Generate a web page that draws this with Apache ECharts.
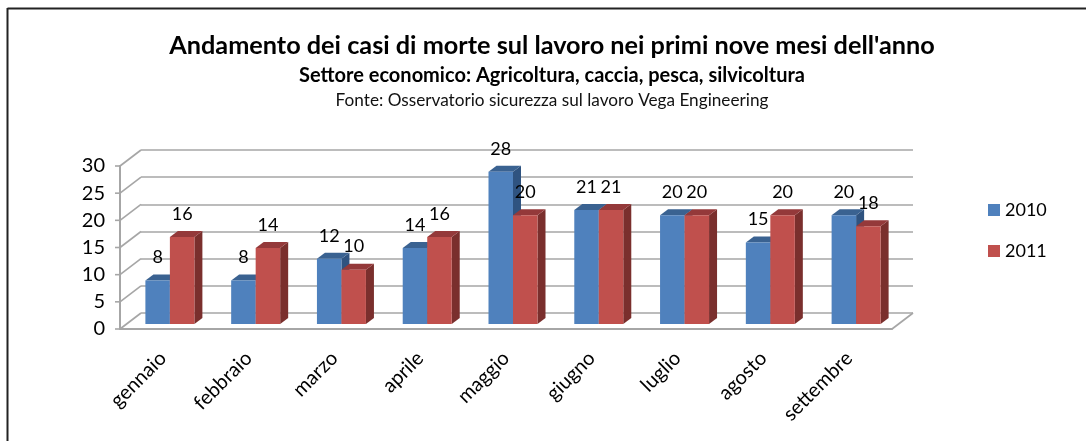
<!DOCTYPE html>
<html>
<head>
<meta charset="utf-8">
<title>Andamento dei casi di morte sul lavoro</title>
<script src="https://cdn.jsdelivr.net/npm/echarts@6/dist/echarts.min.js"></script>
<style>
  html, body { margin: 0; padding: 0; background: #fff; }
  #main { width: 1086px; height: 441px; }
</style>
</head>
<body>
<div id="main"></div>
<script>
const months = ['gennaio', 'febbraio', 'marzo', 'aprile', 'maggio', 'giugno', 'luglio', 'agosto', 'settembre'];
const values2010 = [8, 8, 12, 14, 28, 21, 20, 15, 20];
const values2011 = [16, 14, 10, 16, 20, 21, 20, 20, 18];
const yTicks = [0, 5, 10, 15, 20, 25, 30];

const myChart = echarts.init(document.getElementById('main'));
const font = 'Lato';
const wallDx = 21, wallDy = 16; // profondita' del finto 3D
const barWidth = 24.5, barDx = 7, barDy = 5, sideDx = 8, sideDy = 6;
const gridColor = '#a6a6a6';

// pareti laterali e pavimento
function renderWall(params, api) {
  const sys = params.coordSys;
  const y = api.coord([0, api.value(1)])[1];
  const style = { stroke: gridColor, lineWidth: 1.6, fill: null };
  const children = [
    { type: 'line', shape: { x1: sys.x, y1: y, x2: sys.x + wallDx, y2: y - wallDy }, style },
    { type: 'line', shape: { x1: sys.x - 5, y1: y, x2: sys.x, y2: y }, style }
  ];
  if (api.value(1) === 0) {
    const xr = sys.x + sys.width;
    children.push({ type: 'line', shape: { x1: xr, y1: y, x2: xr + wallDx, y2: y - wallDy }, style });
  }
  return { type: 'group', children };
}

// barra con fronte, lato e tetto
function makeBar(side, front, sideColor, topColor) {
  return function (params, api) {
    const top = api.coord([api.value(0), api.value(1)]);
    const base = api.coord([api.value(0), 0]);
    const x0 = top[0] + barDx + (side < 0 ? -barWidth : 0);
    const x1 = x0 + barWidth;
    const yt = top[1] - barDy;
    const yb = base[1] - barDy;
    return {
      type: 'group',
      children: [
        { type: 'polygon', shape: { points: [[x1, yt], [x1 + sideDx, yt - sideDy], [x1 + sideDx, yb - sideDy], [x1, yb]] }, style: { fill: sideColor } },
        { type: 'polygon', shape: { points: [[x0, yt], [x0 + sideDx, yt - sideDy], [x1 + sideDx, yt - sideDy], [x1, yt]] }, style: { fill: topColor } },
        { type: 'rect', shape: { x: x0, y: yt, width: barWidth, height: yb - yt }, style: { fill: front } },
        { type: 'text', style: { text: String(api.value(1)), x: (x0 + x1) / 2, y: yt - 23, align: 'center', verticalAlign: 'middle', fontFamily: font, fontSize: 18, fill: '#000' } }
      ]
    };
  };
}

const option = {
  animation: false,
  backgroundColor: '#fff',
  title: [
    { text: "Andamento dei casi di morte sul lavoro nei primi nove mesi dell'anno", left: 547, top: 28, textAlign: 'center', textStyle: { fontFamily: font, fontSize: 25.25, fontWeight: 'bold', color: '#000' } },
    { text: 'Settore economico: Agricoltura, caccia, pesca, silvicoltura', left: 547, top: 61, textAlign: 'center', textStyle: { fontFamily: font, fontSize: 20, fontWeight: 'bold', color: '#000' } },
    { text: 'Fonte: Osservatorio sicurezza sul lavoro Vega Engineering', left: 547, top: 87, textAlign: 'center', textStyle: { fontFamily: font, fontSize: 17.2, fontWeight: 'normal', color: '#111' } }
  ],
  legend: {
    data: ['2010', '2011'],
    orient: 'vertical',
    left: 983,
    top: 196,
    itemWidth: 12,
    itemHeight: 12,
    itemGap: 23,
    icon: 'rect',
    textStyle: { fontFamily: font, fontSize: 18, color: '#000' }
  },
  grid: [
    { left: 120, right: 194, top: 166, bottom: 112 },
    { left: 141, right: 173, top: 150, bottom: 128 }
  ],
  xAxis: [
    {
      type: 'category',
      data: months,
      gridIndex: 0,
      axisLine: { lineStyle: { color: gridColor, width: 2 } },
      axisTick: { show: false },
      axisLabel: { rotate: 45, margin: 26, interval: 0, fontFamily: font, fontSize: 20, color: '#000' }
    },
    { type: 'category', data: months, gridIndex: 1, show: false }
  ],
  yAxis: [
    {
      type: 'value',
      gridIndex: 0,
      min: 0,
      max: 30,
      interval: 5,
      axisLine: { show: true, lineStyle: { color: gridColor, width: 2 } },
      axisTick: { show: false },
      splitLine: { show: false },
      axisLabel: { margin: 15, fontFamily: font, fontSize: 20, color: '#000' }
    },
    {
      type: 'value',
      gridIndex: 1,
      min: 0,
      max: 30,
      interval: 5,
      axisLine: { show: false },
      axisTick: { show: false },
      axisLabel: { show: false },
      splitLine: { show: true, lineStyle: { color: gridColor, width: 1.6 } }
    }
  ],
  series: [
    {
      name: 'pareti',
      type: 'custom',
      xAxisIndex: 0,
      yAxisIndex: 0,
      clip: false,
      silent: true,
      z: 1,
      renderItem: renderWall,
      encode: { x: 0, y: 1 },
      data: yTicks.map(t => [0, t])
    },
    {
      name: '2010',
      type: 'custom',
      xAxisIndex: 0,
      yAxisIndex: 0,
      clip: false,
      z: 3,
      itemStyle: { color: '#4f81bd' },
      renderItem: makeBar(-1, '#4f81bd', '#2f5380', '#3a6291'),
      encode: { x: 0, y: 1 },
      data: values2010.map((v, i) => [i, v])
    },
    {
      name: '2011',
      type: 'custom',
      xAxisIndex: 0,
      yAxisIndex: 0,
      clip: false,
      z: 4,
      itemStyle: { color: '#c0504d' },
      renderItem: makeBar(1, '#c0504d', '#7a2f2d', '#94393a'),
      encode: { x: 0, y: 1 },
      data: values2011.map((v, i) => [i, v])
    }
  ],
  // cornice: solo lati sinistro e superiore restano nell'immagine
  graphic: [
    { type: 'line', shape: { x1: 7.5, y1: 8.5, x2: 1086, y2: 8.5 }, style: { stroke: '#222', lineWidth: 2 } },
    { type: 'line', shape: { x1: 7.5, y1: 8, x2: 7.5, y2: 441 }, style: { stroke: '#222', lineWidth: 2 } }
  ]
};

myChart.setOption(option);
</script>
</body>
</html>
